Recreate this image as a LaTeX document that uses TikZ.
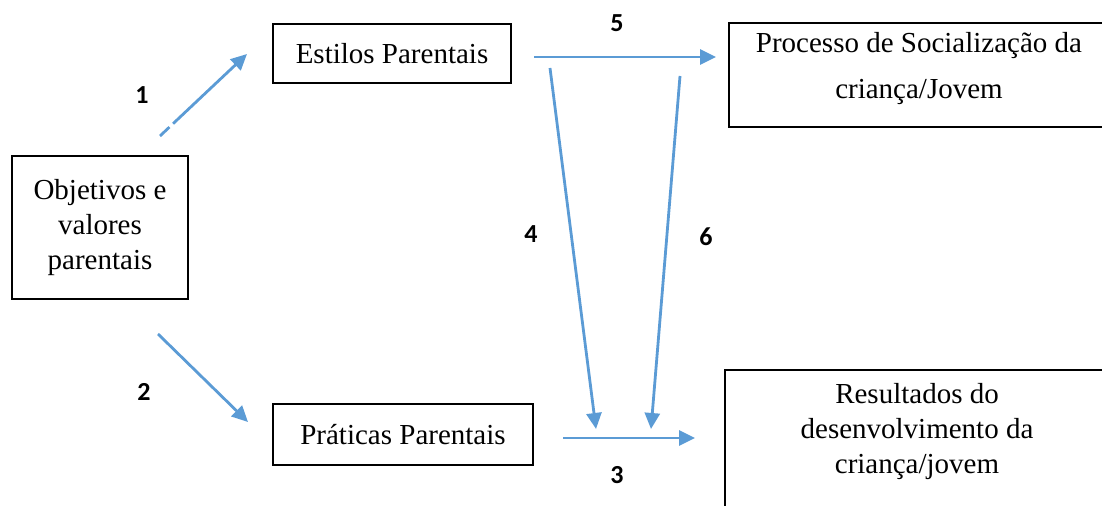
\documentclass[tikz,border=0pt]{standalone}
\usepackage{fontspec}
\setmainfont{Liberation Serif}
\newfontfamily\numfont{Carlito}
\usepackage{xcolor}
\usetikzlibrary{arrows.meta,positioning}
\definecolor{arrowblue}{HTML}{5B9BD5}

\tikzset{
  box/.style={draw,line width=1pt,inner sep=0pt},
  txt/.style={align=center,font=\fontsize{14.5}{17.5}\selectfont},
  num/.style={font=\numfont\bfseries\fontsize{13}{15}\selectfont},
  flow/.style={arrowblue,line width=1.4pt,-{Triangle[length=8pt,width=7.5pt]}},
}

\begin{document}
\begin{tikzpicture}[x=0.5pt,y=-0.5pt]
\useasboundingbox (0,0) rectangle (1102,506);

% Boxes
\node[box,txt,minimum width=119pt,minimum height=29.5pt] (est) at (392,53.5) {Estilos Parentais};
\node[box,txt,minimum width=88pt,minimum height=71.5pt] (obj) at (100,227.5) {Objetivos e\\valores\\parentais};
\node[box,txt,minimum width=130pt,minimum height=30.5pt] (prat) at (403,434.5) {Práticas Parentais};

% Boxes cut by the page edge, text at the top
\node[box,anchor=north west,minimum width=190pt,minimum height=52pt] (proc) at (728,22) {};
\node[txt,below=1.5pt of proc.north] (procT) {Processo de Socialização da\\[5.5pt]criança/Jovem};
\node[box,anchor=north west,minimum width=192pt,minimum height=80pt] (res) at (724,369) {};
\node[txt,below=3.5pt of res.north] (resT) {Resultados do\\desenvolvimento da\\criança/jovem};

% Arrow ends
\coordinate (s1) at (160,136); \coordinate (t1) at (247,54);
\coordinate (s2) at (158,334); \coordinate (t2) at (248,422);
\coordinate (s3) at (563,438); \coordinate (t3) at (695,438);
\coordinate (s4) at (550,68);  \coordinate (t4) at (596,429);
\coordinate (s5) at (534,57);  \coordinate (t5) at (716,57);
\coordinate (s6) at (680,76);  \coordinate (t6) at (651,429);

% Arrows
\draw[flow,dash pattern={on 6.5pt off 2.5pt on 300pt}] (s1) -- (t1);
\draw[flow] (s2) -- (t2);
\draw[flow] (s3) -- (t3);
\draw[flow] (s4) -- (t4);
\draw[flow] (s5) -- (t5);
\draw[flow] (s6) -- (t6);

% Numbers
\node[num] (n1) at (142,95) {1};
\node[num] (n2) at (144,392) {2};
\node[num] (n3) at (617,475) {3};
\node[num] (n4) at (531,234) {4};
\node[num] (n5) at (617,23) {5};
\node[num] (n6) at (706,237) {6};
\end{tikzpicture}
\end{document}
